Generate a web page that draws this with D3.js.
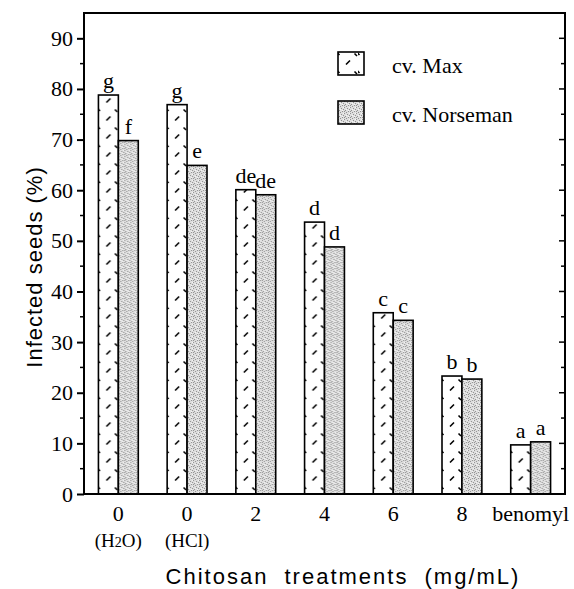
<!DOCTYPE html>
<html>
<head>
<meta charset="utf-8">
<script src="https://cdn.jsdelivr.net/npm/d3@7"></script>
<style>
  body { margin: 0; background: #fff; }
  svg { display: block; }
</style>
</head>
<body>
<div id="chart"></div>
<script>
// treatments on the x axis
const categories = ["0", "0", "2", "4", "6", "8", "benomyl"];
const subLabels = ["(H2O)", "(HCl)", "", "", "", "", ""];
const seriesNames = ["cv. Max", "cv. Norseman"];
// infected seeds (%)
const maxValues = [78.8, 76.9, 60.1, 53.7, 35.8, 23.3, 9.7];
const norsemanValues = [69.8, 64.9, 59.1, 48.8, 34.3, 22.7, 10.3];
const maxLetters = ["g", "g", "de", "d", "c", "b", "a"];
const norsemanLetters = ["f", "e", "de", "d", "c", "b", "a"];
const yTicks = [0, 10, 20, 30, 40, 50, 60, 70, 80, 90];

const W = 574, H = 589;
const plotL = 84, plotR = 565, plotT = 13, plotB = 494;

const svg = d3.select("#chart").append("svg")
    .attr("width", W)
    .attr("height", H);

const defs = svg.append("defs");

// dashed hatch for cv. Max
const hatch = defs.append("pattern")
    .attr("id", "hatch")
    .attr("patternUnits", "userSpaceOnUse")
    .attr("width", 20)
    .attr("height", 18);
hatch.append("rect").attr("width", 20).attr("height", 18).attr("fill", "#fff");
hatch.append("path")
    .attr("d", "M8,12.5 L12,8.5 M16.5,1.5 L19,4 M-1,0.5 L1.5,3")
    .attr("stroke", "#000")
    .attr("stroke-width", 1.6);

// grey stipple for cv. Norseman
const dots = defs.append("pattern")
    .attr("id", "dots")
    .attr("patternUnits", "userSpaceOnUse")
    .attr("width", 6)
    .attr("height", 6);
dots.append("rect").attr("width", 6).attr("height", 6).attr("fill", "#dedede");
[[0,0],[3,1],[1,3],[4,4],[2,5],[5,2],[0,4]].forEach(p => {
    dots.append("rect")
        .attr("x", p[0]).attr("y", p[1])
        .attr("width", 1).attr("height", 1)
        .attr("fill", "#909090");
});
[[2,2],[5,0],[4,3]].forEach(p => {
    dots.append("rect")
        .attr("x", p[0]).attr("y", p[1])
        .attr("width", 1).attr("height", 1)
        .attr("fill", "#f6f6f6");
});

const x0 = d3.scaleBand()
    .domain(d3.range(categories.length))
    .range([plotL, plotR])
    .paddingInner(0.42)
    .paddingOuter(0.21);

const x1 = d3.scaleBand()
    .domain([0, 1])
    .range([0, x0.bandwidth()]);

const y = d3.scaleLinear()
    .domain([0, 95])
    .range([plotB, plotT]);

// bars
const groups = svg.selectAll(".grp")
    .data(categories)
    .enter()
    .append("g")
    .attr("class", "grp");

groups.each(function(d, i) {
    const g = d3.select(this);
    const vals = [maxValues[i], norsemanValues[i]];
    const letters = [maxLetters[i], norsemanLetters[i]];
    vals.forEach((v, s) => {
        const bx = x0(i) + x1(s);
        const bar = g.append("g").attr("transform", `translate(${bx},0)`);
        bar.append("rect")
            .attr("x", 0)
            .attr("y", y(v))
            .attr("width", x1.bandwidth())
            .attr("height", y(0) - y(v))
            .attr("fill", s === 0 ? "url(#hatch)" : "url(#dots)")
            .attr("stroke", "#000")
            .attr("stroke-width", 1.6);
        g.append("text")
            .attr("x", bx + x1.bandwidth() / 2)
            .attr("y", y(v) - 7)
            .attr("text-anchor", "middle")
            .style("font-family", "'Liberation Serif', serif")
            .style("font-size", "22px")
            .text(letters[s]);
    });
});

// frame
svg.append("rect")
    .attr("x", plotL).attr("y", plotT)
    .attr("width", plotR - plotL).attr("height", plotB - plotT)
    .attr("fill", "none")
    .attr("stroke", "#000")
    .attr("stroke-width", 2);

// left axis
const yAxis = d3.axisLeft(y)
    .tickValues(yTicks)
    .tickSize(7)
    .tickPadding(4)
    .tickFormat(d3.format("d"));

const ya = svg.append("g")
    .attr("transform", `translate(${plotL},0)`)
    .call(yAxis);
ya.select(".domain").remove();
ya.selectAll("line").attr("stroke-width", 2);
ya.selectAll("text")
    .style("font-family", "'Liberation Serif', serif")
    .style("font-size", "22px")
    .attr("fill", "#000");

const minor = d3.range(5, 95, 10);
svg.append("g").selectAll("line")
    .data(minor)
    .enter()
    .append("line")
    .attr("x1", plotL - 4).attr("x2", plotL)
    .attr("y1", d => y(d)).attr("y2", d => y(d))
    .attr("stroke", "#000").attr("stroke-width", 1.5);

// right axis, ticks inward
svg.append("g").selectAll("line")
    .data(yTicks.concat(minor))
    .enter()
    .append("line")
    .attr("x1", d => plotR - (d % 10 === 0 ? 6 : 4)).attr("x2", plotR)
    .attr("y1", d => y(d)).attr("y2", d => y(d))
    .attr("stroke", "#000").attr("stroke-width", 1.5);

// x labels
const xl = svg.append("g")
    .style("font-family", "'Liberation Serif', serif");
xl.selectAll(".cat")
    .data(categories)
    .enter()
    .append("text")
    .attr("class", "cat")
    .attr("x", (d, i) => x0(i) + x0.bandwidth() / 2)
    .attr("y", 521)
    .attr("text-anchor", "middle")
    .style("font-size", "22px")
    .text(d => d);

xl.selectAll(".sub")
    .data(subLabels)
    .enter()
    .append("text")
    .attr("class", "sub")
    .attr("x", (d, i) => x0(i) + x0.bandwidth() / 2)
    .attr("y", 547)
    .attr("text-anchor", "middle")
    .style("font-size", "19px")
    .each(function(d) {
        const t = d3.select(this);
        if (d === "(H2O)") {
            t.append("tspan").text("(H");
            t.append("tspan").style("font-size", "14px").text("2");
            t.append("tspan").text("O)");
        } else {
            t.text(d);
        }
    });

// axis titles
svg.append("text")
    .attr("transform", `translate(42,267) rotate(-90)`)
    .attr("text-anchor", "middle")
    .style("font-family", "'Liberation Sans', Arial, sans-serif")
    .style("font-size", "22px")
    .style("letter-spacing", "1px")
    .text("Infected seeds (%)");

svg.append("text")
    .attr("x", 343)
    .attr("y", 584)
    .attr("text-anchor", "middle")
    .style("font-family", "'Liberation Sans', Arial, sans-serif")
    .style("font-size", "22px")
    .style("letter-spacing", "2px")
    .style("word-spacing", "8px")
    .text("Chitosan treatments (mg/mL)");

// legend
const legend = svg.append("g");
seriesNames.forEach((name, s) => {
    const ly = 52 + s * 49;
    const lg = legend.append("g").attr("transform", `translate(338,${ly})`);
    lg.append("rect")
        .attr("width", 26).attr("height", 23)
        .attr("fill", s === 0 ? "url(#hatch)" : "url(#dots)")
        .attr("stroke", "#000")
        .attr("stroke-width", 1.6);
    legend.append("text")
        .attr("x", 392)
        .attr("y", ly + 21)
        .style("font-family", "'Liberation Serif', serif")
        .style("font-size", "22px")
        .text(name);
});
</script>
</body>
</html>
